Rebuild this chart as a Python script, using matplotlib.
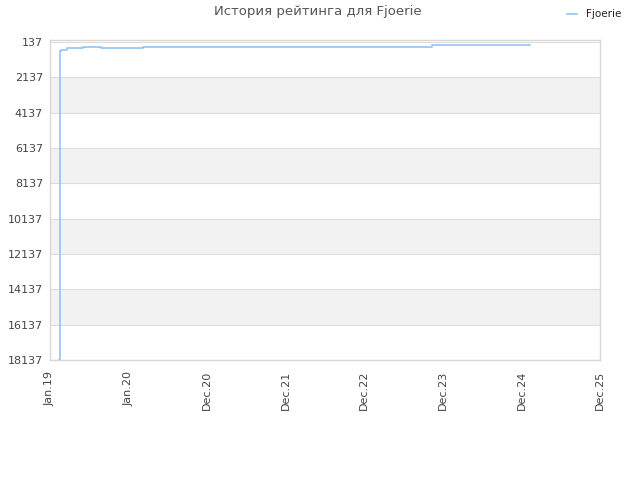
import matplotlib
matplotlib.use("Agg")
import matplotlib.pyplot as plt
import matplotlib.dates as mdates
import numpy as np
import pandas as pd

# Data
dates = ["2019-02-13", "2019-02-14", "2019-02-15", "2019-02-20", "2019-03-19",
         "2019-06-01", "2019-08-22", "2020-03-03", "2023-10-21", "2025-01-14"]
ratings = [18137, 900, 650, 600, 480, 420, 470, 420, 340, 340]
series_name = "Fjoerie"
title = "История рейтинга для Fjoerie"
x_tick_labels = ["Jan.19", "Jan.20", "Dec.20", "Dec.21", "Dec.22", "Dec.23", "Dec.24", "Dec.25"]
y_ticks = [137, 2137, 4137, 6137, 8137, 10137, 12137, 14137, 16137, 18137]
x_start, x_end = "2019-01-01", "2025-12-01"

fig = plt.figure(figsize=(6.4, 4.8), dpi=100)
ax = fig.add_axes([50/640, 120/480, 550/640, 320/480])

xd = mdates.date2num(pd.to_datetime(dates))
x0 = mdates.date2num(pd.Timestamp(x_start))
x1 = mdates.date2num(pd.Timestamp(x_end))

# alternating bands
for i in range(len(y_ticks) - 1):
    if i % 2 == 1:
        ax.axhspan(y_ticks[i], y_ticks[i+1], color="#f2f2f2", zorder=0, lw=0)
for yt in y_ticks:
    ax.axhline(yt, color="#dddddd", lw=0.8, zorder=1)

ax.step(xd, ratings, where="post", color="#90c4f5", lw=1.2, zorder=3, label=series_name)

ax.set_xlim(x0, x1)
ax.set_ylim(18137, 30)
ax.set_yticks(y_ticks)
ax.set_yticklabels([str(v) for v in y_ticks])
ax.set_xticks(np.linspace(x0, x1, len(x_tick_labels)))
ax.set_xticklabels(x_tick_labels, rotation=90)
ax.tick_params(axis="both", length=0, labelsize=8, colors="#444444")
ax.tick_params(axis="x", pad=8)
ax.tick_params(axis="y", pad=5)
for s in ax.spines.values():
    s.set_color("#d8d8d8")
    s.set_linewidth(1)

fig.text(0.497, 1 - 12/480, title, ha="center", va="center", fontsize=9.5, color="#555555")
leg = fig.legend(loc="upper right", bbox_to_anchor=(0.985, 1.0), frameon=False,
                 fontsize=7.5, handlelength=1.0, handletextpad=0.8)
for t in leg.get_texts():
    t.set_color("#222222")

fig.savefig("out.png", dpi=100)
